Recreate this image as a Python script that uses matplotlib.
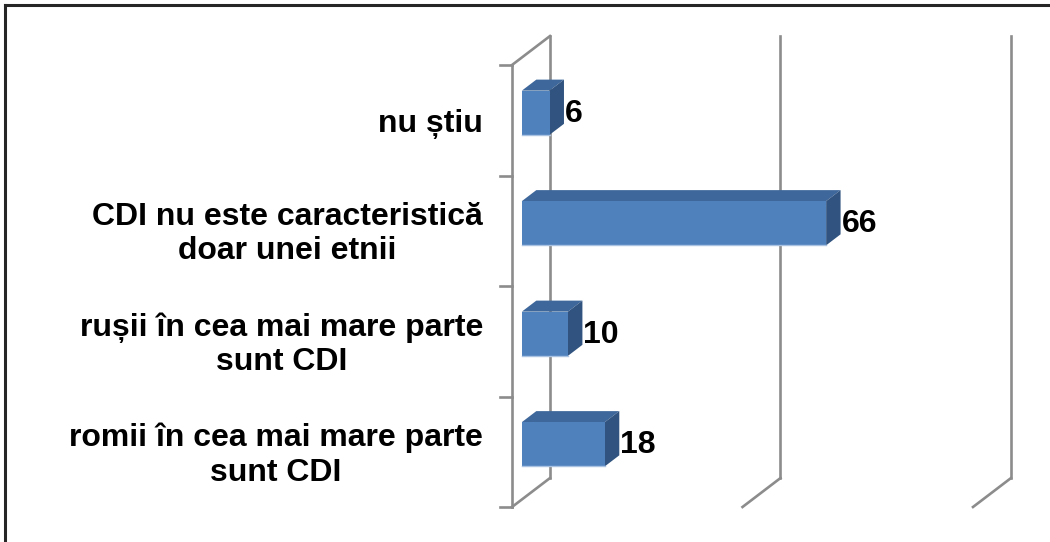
import matplotlib.pyplot as plt
from matplotlib.patches import Polygon
from matplotlib.lines import Line2D

plt.rcParams['font.family'] = ['Liberation Sans', 'DejaVu Sans']

# data (bottom to top)
categories = ['romii în cea mai mare parte\nsunt CDI',
              'rușii în cea mai mare parte\nsunt CDI',
              'CDI nu este caracteristică\ndoar unei etnii',
              'nu știu']
values = [18, 10, 66, 6]
grid_values = [0, 50, 100]

# 3d look: depth offsets in data units
DX = 8.24
DY = 0.262
d0 = 0.26
d1 = 0.64
bar_h = 0.40

front_c = '#4F81BD'
top_c = '#3E679B'
side_c = '#30537F'
grid_c = '#8C8C8C'

W, H = 1050, 542
fig = plt.figure(figsize=(W / 100, H / 100), dpi=100)
ax = fig.add_axes([512 / W, 35 / H, (973 - 512) / W, 442 / H])
ax.set_xlim(0, 100)
ax.set_ylim(0, 4)
ax.axis('off')

# walls / grid
for v in grid_values:
    ax.plot([v + DX, v + DX], [DY, 4 + DY], color=grid_c, lw=1.9, clip_on=False, zorder=1)
    ax.plot([v, v + DX], [0, DY], color=grid_c, lw=1.9, clip_on=False, zorder=1)
ax.plot([0, 0], [0, 4], color=grid_c, lw=1.9, clip_on=False, zorder=1)
ax.plot([0, DX], [4, 4 + DY], color=grid_c, lw=1.9, clip_on=False, zorder=1)
for c in range(5):
    ax.plot([-2.6, 0], [c, c], color=grid_c, lw=1.9, clip_on=False, zorder=1)

# bars
for i, (cat, v) in enumerate(zip(categories, values)):
    x0 = d0 * DX
    x1 = v + d0 * DX
    yc = i + 0.5 + d0 * DY
    yb, yt = yc - bar_h / 2, yc + bar_h / 2
    ox = (d1 - d0) * DX
    oy = (d1 - d0) * DY
    ax.add_patch(Polygon([(x0, yt), (x1, yt), (x1 + ox, yt + oy), (x0 + ox, yt + oy)],
                         closed=True, facecolor=top_c, edgecolor='none', zorder=3, clip_on=False))
    ax.add_patch(Polygon([(x1, yb), (x1 + ox, yb + oy), (x1 + ox, yt + oy), (x1, yt)],
                         closed=True, facecolor=side_c, edgecolor='none', zorder=3, clip_on=False))
    ax.add_patch(Polygon([(x0, yb), (x1, yb), (x1, yt), (x0, yt)],
                         closed=True, facecolor=front_c, edgecolor='none', zorder=4, clip_on=False))
    ax.plot([x0, x1], [yb, yb], color='#A9C2E2', lw=1.0, zorder=5, clip_on=False)
    ax.text(x1 + ox + 0.2, yc - 0.01, str(v), ha='left', va='center', fontsize=23,
            fontweight='bold', color='black', zorder=6)
    ax.text(-6.3, i + 0.47, cat, ha='right', va='center', fontsize=23,
            fontweight='bold', color='black', linespacing=1.2, multialignment='center')

# outer frame (top and left visible)
fig.add_artist(Line2D([5 / W, 1], [1 - 5 / H, 1 - 5 / H], color='#262626', lw=2.2))
fig.add_artist(Line2D([5 / W, 5 / W], [0, 1 - 5 / H], color='#262626', lw=2.2))

fig.savefig('out.png', dpi=100)
